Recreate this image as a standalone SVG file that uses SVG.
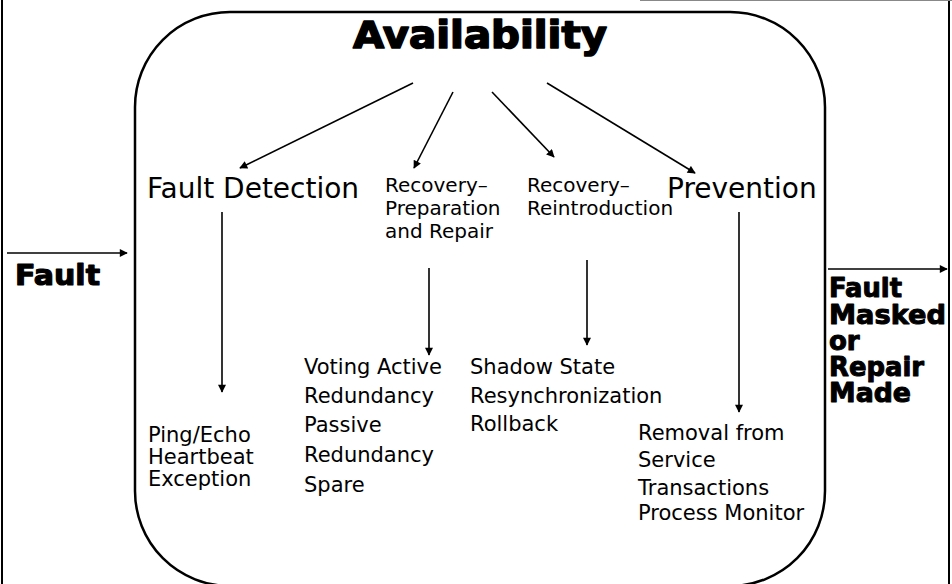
<svg xmlns="http://www.w3.org/2000/svg" width="952" height="584" viewBox="0 0 952 584">
  <style>
    .lbl { font-family: "DejaVu Sans", "Liberation Sans", sans-serif; fill: #000; }
    .big { font-size: 28px; }
    .mid { font-size: 20px; }
    .leaf { font-size: 21px; }
    .bold { font-family: "DejaVu Sans", "Liberation Sans", sans-serif; font-weight: 900; fill: #000; stroke: #000; stroke-linejoin: round; }
    .edge { stroke: #000; stroke-width: 1.6; fill: none; }
  </style>
  <defs>
    <marker id="arrow" viewBox="0 0 10 10" refX="9" refY="5" markerWidth="9" markerHeight="8" markerUnits="userSpaceOnUse" orient="auto">
      <path d="M0,0 L10,5 L0,10 Z" fill="#000"/>
    </marker>
  </defs>
  <rect width="952" height="584" fill="#fff"/>

  <!-- page frame -->
  <g id="frame" stroke="#000" fill="none">
    <line x1="2" y1="0" x2="2" y2="584" stroke-width="2"/>
    <line x1="949" y1="0" x2="949" y2="584" stroke-width="2"/>
    <line x1="640" y1="0.5" x2="952" y2="0.5" stroke="#888" stroke-width="1"/>
  </g>

  <!-- system boundary -->
  <g id="boundary">
    <rect x="135" y="12" width="690" height="574" rx="95" ry="95" fill="none" stroke="#000" stroke-width="2.5"/>
  </g>

  <g id="availability">
    <text class="bold" x="480" y="48" font-size="37" stroke-width="1.6" text-anchor="middle" textLength="254" lengthAdjust="spacingAndGlyphs">Availability</text>
  </g>

  <g id="fault-in">
    <text class="bold" x="15" y="285" font-size="29" stroke-width="1.2" textLength="85" lengthAdjust="spacingAndGlyphs">Fault</text>
  </g>

  <g id="fault-out" font-size="26">
    <text class="bold" x="829" y="297" stroke-width="1" textLength="73" lengthAdjust="spacingAndGlyphs">Fault</text>
    <text class="bold" x="829" y="324" stroke-width="1" textLength="117" lengthAdjust="spacingAndGlyphs">Masked</text>
    <text class="bold" x="829" y="350" stroke-width="1">or</text>
    <text class="bold" x="829" y="376" stroke-width="1" textLength="95" lengthAdjust="spacingAndGlyphs">Repair</text>
    <text class="bold" x="829" y="402" stroke-width="1" textLength="82" lengthAdjust="spacingAndGlyphs">Made</text>
  </g>

  <g id="fault-detection">
    <text class="lbl big" x="147" y="198">Fault Detection</text>
  </g>

  <g id="recovery-preparation">
    <text class="lbl mid" x="385" y="192">Recovery–</text>
    <text class="lbl mid" x="385" y="215">Preparation</text>
    <text class="lbl mid" x="385" y="238">and Repair</text>
  </g>

  <g id="recovery-reintroduction">
    <text class="lbl mid" x="527" y="192">Recovery–</text>
    <text class="lbl mid" x="527" y="215">Reintroduction</text>
  </g>

  <g id="prevention">
    <text class="lbl big" x="667" y="198">Prevention</text>
  </g>

  <g id="detection-tactics">
    <text class="lbl leaf" x="148" y="442">Ping/Echo</text>
    <text class="lbl leaf" x="148" y="464">Heartbeat</text>
    <text class="lbl leaf" x="148" y="486">Exception</text>
  </g>

  <g id="preparation-tactics">
    <text class="lbl leaf" x="304" y="374">Voting Active</text>
    <text class="lbl leaf" x="304" y="403">Redundancy</text>
    <text class="lbl leaf" x="304" y="432">Passive</text>
    <text class="lbl leaf" x="304" y="462">Redundancy</text>
    <text class="lbl leaf" x="304" y="492">Spare</text>
  </g>

  <g id="reintroduction-tactics">
    <text class="lbl leaf" x="470" y="374">Shadow State</text>
    <text class="lbl leaf" x="470" y="403">Resynchronization</text>
    <text class="lbl leaf" x="470" y="431">Rollback</text>
  </g>

  <g id="prevention-tactics">
    <text class="lbl leaf" x="638" y="440">Removal from</text>
    <text class="lbl leaf" x="638" y="467">Service</text>
    <text class="lbl leaf" x="638" y="495">Transactions</text>
    <text class="lbl leaf" x="638" y="520">Process Monitor</text>
  </g>

  <g id="connectors" class="edge">
    <line x1="7" y1="253" x2="127" y2="253" marker-end="url(#arrow)"/>
    <line x1="828" y1="269" x2="947" y2="269" marker-end="url(#arrow)"/>
    <line x1="413" y1="83" x2="240" y2="168" marker-end="url(#arrow)"/>
    <line x1="453" y1="92" x2="414" y2="168" marker-end="url(#arrow)"/>
    <line x1="492" y1="92" x2="554" y2="157" marker-end="url(#arrow)"/>
    <line x1="547" y1="83" x2="695" y2="173" marker-end="url(#arrow)"/>
    <line x1="222" y1="212" x2="222" y2="392" marker-end="url(#arrow)"/>
    <line x1="429" y1="268" x2="429" y2="355" marker-end="url(#arrow)"/>
    <line x1="587" y1="260" x2="587" y2="345" marker-end="url(#arrow)"/>
    <line x1="739" y1="212" x2="739" y2="412" marker-end="url(#arrow)"/>
  </g>
</svg>
